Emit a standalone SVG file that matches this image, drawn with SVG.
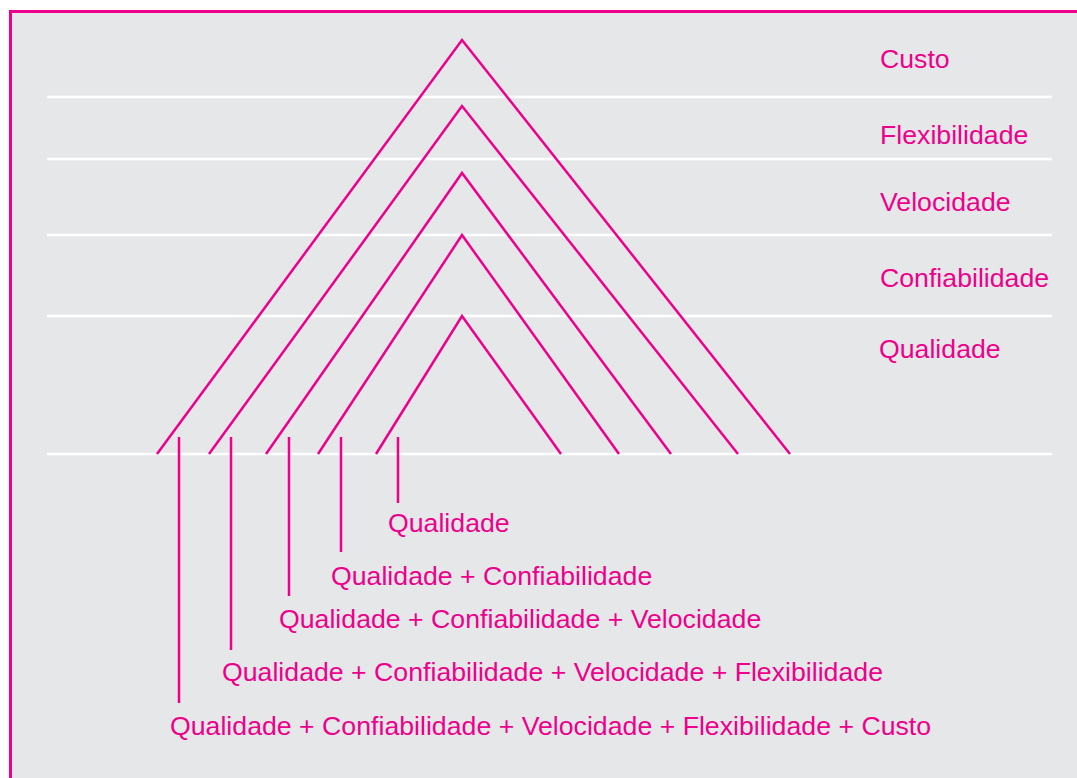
<svg xmlns="http://www.w3.org/2000/svg" width="1077" height="778" viewBox="0 0 1077 778">
<style>
.bg{fill:#e6e7e8;stroke:#ec008c;stroke-width:3}
.grid{stroke:#ffffff;stroke-width:2.5;fill:none}
.chev{stroke:#ec008c;stroke-width:2.5;fill:none;stroke-linejoin:miter}
.tick{stroke:#ec008c;stroke-width:2.5;fill:none}
.lbl{fill:#ec008c;font-family:"Liberation Sans",Arial,Helvetica,sans-serif;font-size:26.7px}
</style>
<rect x="0" y="0" width="1077" height="778" fill="#ffffff"/>
<rect class="bg" x="10.5" y="11.5" width="1090" height="790"/>
<g id="grid-lines">
<line class="grid" x1="47" y1="97" x2="1052" y2="97"/>
<line class="grid" x1="47" y1="159" x2="1052" y2="159"/>
<line class="grid" x1="47" y1="235" x2="1052" y2="235"/>
<line class="grid" x1="47" y1="316" x2="1052" y2="316"/>
<line class="grid" x1="47" y1="454" x2="1052" y2="454"/>
</g>
<g id="chevrons">
<polyline id="chev-custo" class="chev" points="157,454 462,40 790,454"/>
<polyline id="chev-flex" class="chev" points="209,454 462,106 738,454"/>
<polyline id="chev-vel" class="chev" points="266,454 462,173 671,454"/>
<polyline id="chev-conf" class="chev" points="318,454 462,235 619,454"/>
<polyline id="chev-qual" class="chev" points="376,454 462,316 561,454"/>
</g>
<g id="level-labels">
<text class="lbl" x="880" y="68">Custo</text>
<text class="lbl" x="880" y="144">Flexibilidade</text>
<text class="lbl" x="880" y="211">Velocidade</text>
<text class="lbl" x="880" y="287">Confiabilidade</text>
<text class="lbl" x="879" y="358">Qualidade</text>
</g>
<g id="connectors">
<line class="tick" x1="179" y1="437" x2="179" y2="703"/>
<line class="tick" x1="231" y1="437" x2="231" y2="650"/>
<line class="tick" x1="289" y1="437" x2="289" y2="596"/>
<line class="tick" x1="341" y1="437" x2="341" y2="552"/>
<line class="tick" x1="398" y1="437" x2="398" y2="503"/>
</g>
<g id="combo-labels">
<text class="lbl" x="388" y="532">Qualidade</text>
<text class="lbl" x="331" y="585">Qualidade + Confiabilidade</text>
<text class="lbl" x="279" y="628">Qualidade + Confiabilidade + Velocidade</text>
<text class="lbl" x="222" y="681">Qualidade + Confiabilidade + Velocidade + Flexibilidade</text>
<text class="lbl" x="170" y="735">Qualidade + Confiabilidade + Velocidade + Flexibilidade + Custo</text>
</g>
</svg>
